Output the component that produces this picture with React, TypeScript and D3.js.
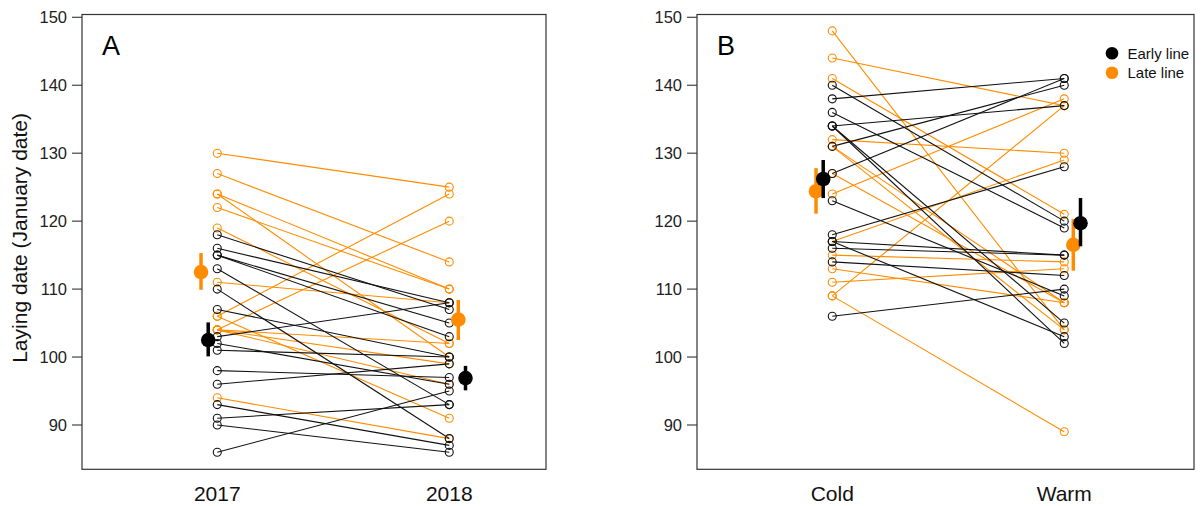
import React from "react";
import * as d3 from "d3";

// ---- Data ----
// Panel A: 2017 vs 2018
const aEarly2017 = [118, 116, 115, 115, 113, 110, 107, 103, 102, 101, 98, 96, 93, 91, 90, 86];
const aEarly2018 = [107, 108, 105, 103, 93, 88, 100, 108, 96, 100, 97, 99, 87, 93, 86, 95];
const aLate2017 = [130, 127, 124, 124, 122, 119, 111, 106, 106, 104, 104, 104, 104, 94];
const aLate2018 = [125, 114, 110, 100, 110, 102, 108, 124, 91, 120, 102, 99, 96, 88];
// Panel B: Cold vs Warm
const bEarlyCold = [140, 138, 136, 134, 134, 134, 131, 127, 123, 118, 117, 117, 116, 114, 106];
const bEarlyWarm = [120, 141, 119, 137, 105, 102, 140, 141, 109, 128, 115, 103, 115, 112, 110];
const bLateCold = [148, 144, 141, 132, 131, 131, 127, 124, 117, 115, 113, 111, 109, 109];
const bLateWarm = [104, 137, 121, 130, 108, 104, 108, 138, 129, 114, 108, 113, 137, 89];

// Model means and intervals [mean, lower, upper] for level 1 and 2
const aEarlyMean = [[102.5, 100.1, 105.1], [96.9, 95.1, 98.7]];
const aLateMean = [[112.5, 109.9, 115.3], [105.5, 102.5, 108.4]];
const bEarlyMean = [[126.2, 123.4, 129.0], [119.7, 116.3, 123.4]];
const bLateMean = [[124.4, 121.1, 127.8], [116.5, 112.7, 120.3]];

const yTicks = [90, 100, 110, 120, 130, 140, 150];
const aLabels = ["2017", "2018"];
const bLabels = ["Cold", "Warm"];
const legendLabels = ["Early line", "Late line"];

const ORANGE = "#FF8C00";
const BLACK = "#111111";
const FONT = "'Liberation Sans', Arial, Helvetica, sans-serif";

const TOP = 14.5;
const BOTTOM = 469.3;
const yScale = d3.scaleLinear().domain([83.48, 150.41]).range([BOTTOM, TOP]);

type PanelProps = {
  left: number;
  right: number;
  letter: string;
  labels: string[];
  early: [number[], number[]];
  late: [number[], number[]];
  earlyMean: number[][];
  lateMean: number[][];
  legend?: boolean;
  ylab?: boolean;
};

function Panel(p: PanelProps) {
  const x = d3
    .scaleLinear()
    .domain([0.417, 2.559])
    .range([p.left, p.left + (2.559 - 0.417) * 232]);
  const innerOff = 0.039;
  const outerOff = 0.07;
  const r = 4;

  const pairLines = (a: number[], b: number[], color: string, key: string) =>
    a.map((v, i) => (
      <line
        key={key + "l" + i}
        x1={x(1)}
        y1={yScale(v)}
        x2={x(2)}
        y2={yScale(b[i])}
        stroke={color}
        strokeWidth={1.1}
      />
    ));
  const pts = (vals: number[], lvl: number, color: string, key: string) =>
    vals.map((v, i) => (
      <circle
        key={key + "p" + i}
        cx={x(lvl)}
        cy={yScale(v)}
        r={r}
        fill="none"
        stroke={color}
        strokeWidth={1.1}
      />
    ));
  const meanMark = (m: number[], xv: number, color: string, key: string) => (
    <g key={key}>
      <line x1={x(xv)} x2={x(xv)} y1={yScale(m[1])} y2={yScale(m[2])} stroke={color} strokeWidth={3.5} />
      <circle cx={x(xv)} cy={yScale(m[0])} r={7.3} fill={color} />
    </g>
  );

  return (
    <g>
      {pairLines(p.late[0], p.late[1], ORANGE, "late")}
      {pairLines(p.early[0], p.early[1], BLACK, "early")}
      {pts(p.late[0], 1, ORANGE, "late1")}
      {pts(p.late[1], 2, ORANGE, "late2")}
      {pts(p.early[0], 1, BLACK, "early1")}
      {pts(p.early[1], 2, BLACK, "early2")}
      {meanMark(p.lateMean[0], 1 - outerOff, ORANGE, "lm1")}
      {meanMark(p.earlyMean[0], 1 - innerOff, "#000", "em1")}
      {meanMark(p.lateMean[1], 2 + innerOff, ORANGE, "lm2")}
      {meanMark(p.earlyMean[1], 2 + outerOff, "#000", "em2")}
      <rect
        x={p.left}
        y={TOP}
        width={p.right - p.left}
        height={BOTTOM - TOP}
        fill="none"
        stroke="#333"
        strokeWidth={1.2}
      />
      {yTicks.map((t) => (
        <g key={"t" + t}>
          <line x1={p.left - 10} x2={p.left} y1={yScale(t)} y2={yScale(t)} stroke="#333" strokeWidth={1.1} />
          <text
            x={p.left - 15}
            y={yScale(t)}
            dy="0.35em"
            textAnchor="end"
            fontSize={16.5}
            fontFamily={FONT}
            fill="#222"
          >
            {t}
          </text>
        </g>
      ))}
      {p.labels.map((l, i) => (
        <text
          key={"xl" + i}
          x={x(i + 1)}
          y={501}
          textAnchor="middle"
          fontSize={21}
          fontFamily={FONT}
          fill="#111"
        >
          {l}
        </text>
      ))}
      <text x={p.left + 20} y={55} fontSize={27} fontFamily={FONT} fill="#000">
        {p.letter}
      </text>
      {p.ylab && (
        <text
          transform={`translate(27, ${(TOP + BOTTOM) / 2 - 4}) rotate(-90)`}
          textAnchor="middle"
          fontSize={21}
          fontFamily={FONT}
          fill="#111"
        >
          Laying date (January date)
        </text>
      )}
      {p.legend &&
        legendLabels.map((l, i) => (
          <g key={"lg" + i}>
            <circle cx={1112} cy={53.3 + i * 19.4} r={6.3} fill={i === 0 ? "#000" : ORANGE} />
            <text x={1127.5} y={53.3 + i * 19.4} dy="0.36em" fontSize={15} fontFamily={FONT} fill="#111">
              {l}
            </text>
          </g>
        ))}
    </g>
  );
}

export default function App() {
  return (
    <svg width={1202} height={506} style={{ position: "absolute", left: 0, top: 0, background: "#fff" }}>
      <rect width={1202} height={506} fill="#fff" />
      <Panel
        left={82}
        right={546}
        letter="A"
        labels={aLabels}
        early={[aEarly2017, aEarly2018]}
        late={[aLate2017, aLate2018]}
        earlyMean={aEarlyMean}
        lateMean={aLateMean}
        ylab
      />
      <Panel
        left={697}
        right={1194}
        letter="B"
        labels={bLabels}
        early={[bEarlyCold, bEarlyWarm]}
        late={[bLateCold, bLateWarm]}
        earlyMean={bEarlyMean}
        lateMean={bLateMean}
        legend
      />
    </svg>
  );
}
